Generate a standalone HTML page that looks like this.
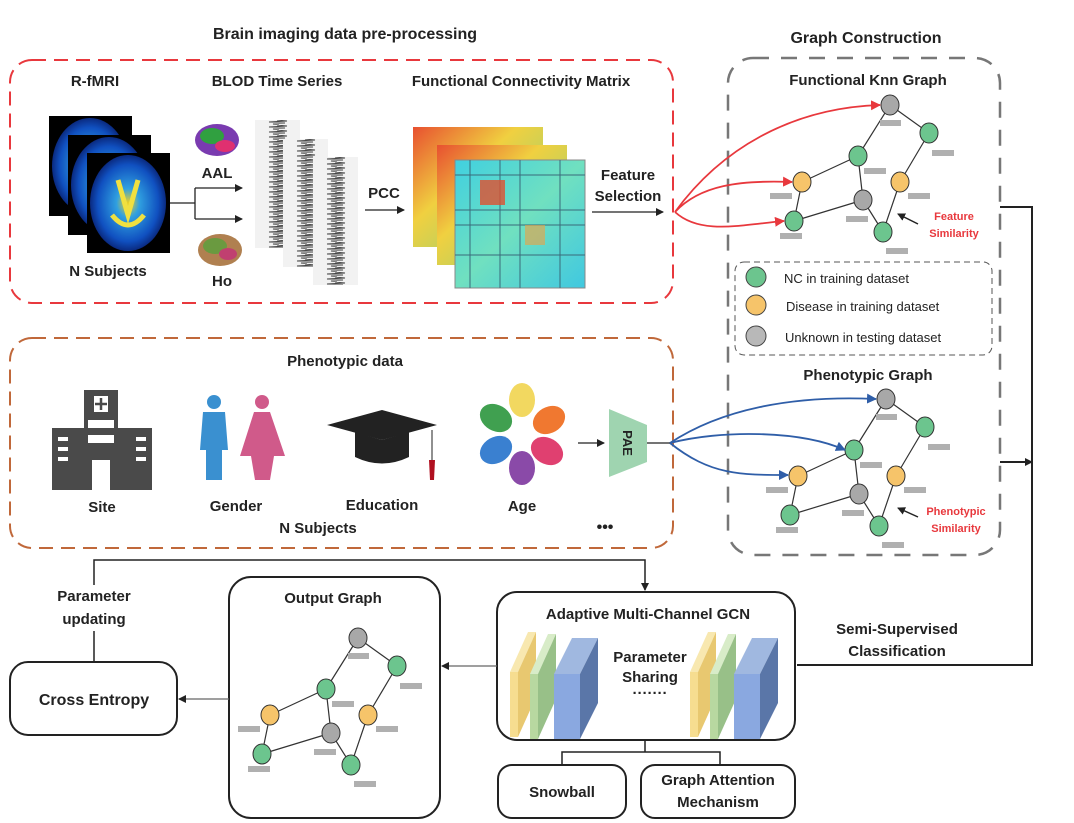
<!DOCTYPE html>
<html><head><meta charset="utf-8"><style>
html,body{margin:0;padding:0;background:#fff}
svg{display:block}
text{font-family:"Liberation Sans",sans-serif;font-weight:bold;fill:#222}
</style></head><body>
<svg width="1074" height="823" viewBox="0 0 1074 823" xmlns="http://www.w3.org/2000/svg">
<defs>
<marker id="ab" markerWidth="8" markerHeight="8" refX="7" refY="4" orient="auto" markerUnits="userSpaceOnUse"><path d="M0,0 L8,4 L0,8 z" fill="#222"/></marker>
<marker id="ar" markerWidth="10" markerHeight="10" refX="9" refY="5" orient="auto" markerUnits="userSpaceOnUse"><path d="M0,0 L10,5 L0,10 z" fill="#e8383d"/></marker>
<marker id="au" markerWidth="10" markerHeight="10" refX="9" refY="5" orient="auto" markerUnits="userSpaceOnUse"><path d="M0,0 L10,5 L0,10 z" fill="#2f5ea8"/></marker>
<radialGradient id="mri" cx="50%" cy="50%" r="50%"><stop offset="0" stop-color="#f0d020"/><stop offset="0.3" stop-color="#30a0e0"/><stop offset="0.8" stop-color="#1050c0"/><stop offset="1" stop-color="#0a2a80"/></radialGradient>
<linearGradient id="mat1" x1="0" y1="0" x2="1" y2="1"><stop offset="0" stop-color="#e85030"/><stop offset="0.4" stop-color="#f0d040"/><stop offset="1" stop-color="#80d080"/></linearGradient>
<linearGradient id="mat2" x1="0" y1="0" x2="1" y2="1"><stop offset="0" stop-color="#40d0e0"/><stop offset="0.5" stop-color="#70e0c0"/><stop offset="1" stop-color="#40c8e0"/></linearGradient>
<pattern id="ts" width="45" height="5" patternUnits="userSpaceOnUse"><path d="M22,0 L32,1 L14,2 L30,3 L18,4 L24,5" stroke="#444" stroke-width="0.9" fill="none"/></pattern>
</defs>

<text x="345" y="39" font-size="16" text-anchor="middle">Brain imaging data pre-processing</text>
<text x="866" y="43" font-size="16" text-anchor="middle">Graph Construction</text>

<rect x="10" y="60" width="663" height="243" rx="22" fill="none" stroke="#e8383d" stroke-width="2" stroke-dasharray="14,8"/>
<text x="95" y="86" font-size="15" text-anchor="middle">R-fMRI</text>
<text x="277" y="86" font-size="15" text-anchor="middle">BLOD Time Series</text>
<text x="521" y="86" font-size="15" text-anchor="middle">Functional Connectivity Matrix</text>
<g>
<rect x="49" y="116" width="83" height="100" fill="#000"/><ellipse cx="90" cy="166" rx="38" ry="48" fill="url(#mri)"/>
<rect x="68" y="135" width="83" height="100" fill="#000"/><ellipse cx="109" cy="185" rx="38" ry="48" fill="url(#mri)"/>
<rect x="87" y="153" width="83" height="100" fill="#000"/><ellipse cx="128" cy="203" rx="38" ry="48" fill="url(#mri)"/>
<path d="M118,180 L128,215 L138,180 M112,215 Q128,235 144,215" stroke="#f0e040" stroke-width="5" fill="none"/>
</g>
<text x="108" y="276" font-size="15" text-anchor="middle">N Subjects</text>
<ellipse cx="217" cy="140" rx="22" ry="16" fill="#7a3bb0"/><ellipse cx="212" cy="136" rx="12" ry="8" fill="#30a040"/><ellipse cx="225" cy="146" rx="10" ry="6" fill="#e03070"/>
<text x="217" y="178" font-size="15" text-anchor="middle">AAL</text>
<ellipse cx="220" cy="250" rx="22" ry="16" fill="#b08050"/><ellipse cx="215" cy="246" rx="12" ry="8" fill="#6a9a40"/><ellipse cx="228" cy="254" rx="9" ry="6" fill="#c04070"/>
<text x="222" y="286" font-size="15" text-anchor="middle">Ho</text>
<path d="M170,203 L195,203 M195,188 L195,219" stroke="#222" stroke-width="1.3" fill="none"/>
<line x1="195" y1="188" x2="242" y2="188" stroke="#222" stroke-width="1.3" marker-end="url(#ab)"/>
<line x1="195" y1="219" x2="242" y2="219" stroke="#222" stroke-width="1.3" marker-end="url(#ab)"/>
<!-- time series -->
<g transform="translate(255,120)"><rect width="45" height="128" fill="#f2f2f2"/><rect width="45" height="128" fill="url(#ts)"/></g>
<g transform="translate(283,139)"><rect width="45" height="128" fill="#f2f2f2"/><rect width="45" height="128" fill="url(#ts)"/></g>
<g transform="translate(313,157)"><rect width="45" height="128" fill="#f2f2f2"/><rect width="45" height="128" fill="url(#ts)"/></g>
<text x="384" y="198" font-size="15" text-anchor="middle">PCC</text>
<line x1="365" y1="210" x2="404" y2="210" stroke="#222" stroke-width="1.3" marker-end="url(#ab)"/>
<rect x="413" y="127" width="130" height="120" fill="url(#mat1)"/>
<rect x="437" y="145" width="130" height="120" fill="url(#mat1)"/>
<rect x="455" y="160" width="130" height="128" fill="url(#mat2)" stroke="#888"/>
<path d="M455,175 H585 M455,210 H585 M455,225 H585 M455,255 H585 M470,160 V288 M500,160 V288 M520,160 V288 M560,160 V288" stroke="#3a6a7a" stroke-width="1"/>
<rect x="480" y="180" width="25" height="25" fill="#e05030" opacity="0.8"/><rect x="525" y="225" width="20" height="20" fill="#f0a040" opacity="0.6"/>
<text x="628" y="180" font-size="15" text-anchor="middle">Feature</text>
<text x="628" y="201" font-size="15" text-anchor="middle">Selection</text>
<line x1="592" y1="212" x2="663" y2="212" stroke="#222" stroke-width="1.3" marker-end="url(#ab)"/>

<rect x="10" y="338" width="663" height="210" rx="22" fill="none" stroke="#c0683a" stroke-width="2" stroke-dasharray="14,8"/>
<text x="345" y="366" font-size="15" text-anchor="middle">Phenotypic data</text>
<g fill="#4a4a4a">
<rect x="84" y="390" width="34" height="100"/><rect x="52" y="428" width="100" height="62"/>
</g>
<g fill="#fff"><rect x="94" y="396" width="14" height="16"/><rect x="88" y="420" width="26" height="8"/><rect x="88" y="435" width="26" height="8"/><rect x="92" y="460" width="18" height="30"/>
<rect x="58" y="437" width="10" height="4"/><rect x="58" y="447" width="10" height="4"/><rect x="58" y="457" width="10" height="4"/><rect x="136" y="437" width="10" height="4"/><rect x="136" y="447" width="10" height="4"/><rect x="136" y="457" width="10" height="4"/></g>
<path d="M101,398 V410 M95,404 H107" stroke="#4a4a4a" stroke-width="2.5"/>
<text x="102" y="512" font-size="15" text-anchor="middle">Site</text>
<circle cx="214" cy="402" r="7" fill="#3a90d0"/><path d="M203,412 H225 L228,450 H222 V480 H206 V450 H200 Z" fill="#3a90d0"/>
<circle cx="262" cy="402" r="7" fill="#d05a8a"/><path d="M254,412 H270 L285,456 H274 L270,480 H255 L251,456 H240 Z" fill="#d05a8a"/>
<text x="236" y="511" font-size="15" text-anchor="middle">Gender</text>
<path d="M327,425 L382,410 L437,425 L382,440 Z" fill="#222"/><path d="M355,432 V457 Q382,470 409,457 V432 L382,440 Z" fill="#222"/>
<path d="M432,430 V470" stroke="#222"/><path d="M429,460 L435,460 L434,480 L430,480 Z" fill="#b01020"/>
<text x="382" y="510" font-size="15" text-anchor="middle">Education</text>
<ellipse cx="522" cy="400" rx="13" ry="17" fill="#f2d860"/>
<ellipse cx="549" cy="420" rx="13" ry="17" fill="#f07830" transform="rotate(60 549 420)"/>
<ellipse cx="547" cy="451" rx="13" ry="17" fill="#e04070" transform="rotate(120 547 451)"/>
<ellipse cx="522" cy="468" rx="13" ry="17" fill="#8a4aa8"/>
<ellipse cx="496" cy="450" rx="13" ry="17" fill="#3a80d0" transform="rotate(60 496 450)"/>
<ellipse cx="496" cy="418" rx="13" ry="17" fill="#40a050" transform="rotate(120 496 418)"/>
<text x="522" y="511" font-size="15" text-anchor="middle">Age</text>
<text x="318" y="533" font-size="15" text-anchor="middle">N Subjects</text>
<text x="605" y="532" font-size="16" text-anchor="middle">•••</text>
<line x1="578" y1="443" x2="604" y2="443" stroke="#222" stroke-width="1.3" marker-end="url(#ab)"/>
<path d="M609,409 L647,425 L647,462 L609,477 Z" fill="#9fd4b0"/>
<text x="628" y="443" font-size="13" text-anchor="middle" transform="rotate(90 628 443)" dy="5">PAE</text>
<line x1="647" y1="443" x2="670" y2="443" stroke="#222" stroke-width="1.2"/>

<rect x="728" y="58" width="272" height="497" rx="25" fill="none" stroke="#777" stroke-width="2.5" stroke-dasharray="16,12"/>
<text x="868" y="85" font-size="15" text-anchor="middle">Functional Knn Graph</text>
<text x="868" y="380" font-size="15" text-anchor="middle">Phenotypic Graph</text>
<rect x="735" y="262" width="257" height="93" rx="9" fill="none" stroke="#555" stroke-width="1" stroke-dasharray="6,4"/>
<circle cx="756" cy="277" r="10" fill="#6cc58e" stroke="#444"/><text x="784" y="283" font-size="13" style="font-weight:normal">NC in training dataset</text>
<circle cx="756" cy="305" r="10" fill="#f6c46a" stroke="#444"/><text x="786" y="311" font-size="13" style="font-weight:normal">Disease in training dataset</text>
<circle cx="756" cy="336" r="10" fill="#b8b8b8" stroke="#444"/><text x="785" y="342" font-size="13" style="font-weight:normal">Unknown in testing dataset</text>

<g id="g1">
<path d="M890,105 L929,133 M890,105 L858,156 M929,133 L900,182 M858,156 L802,182 M858,156 L863,200 M802,182 L794,221 M794,221 L863,200 M863,200 L883,232 M900,182 L883,232" stroke="#333" stroke-width="1.2" fill="none"/>
<g stroke="#333" stroke-width="1">
<ellipse cx="890" cy="105" rx="9" ry="10" fill="#a8a8a8"/>
<ellipse cx="929" cy="133" rx="9" ry="10" fill="#6cc58e"/>
<ellipse cx="858" cy="156" rx="9" ry="10" fill="#6cc58e"/>
<ellipse cx="802" cy="182" rx="9" ry="10" fill="#f6c46a"/>
<ellipse cx="900" cy="182" rx="9" ry="10" fill="#f6c46a"/>
<ellipse cx="863" cy="200" rx="9" ry="10" fill="#a8a8a8"/>
<ellipse cx="794" cy="221" rx="9" ry="10" fill="#6cc58e"/>
<ellipse cx="883" cy="232" rx="9" ry="10" fill="#6cc58e"/>
</g>
<g fill="#b0b0b0"><rect x="880" y="120" width="21" height="6"/><rect x="932" y="150" width="22" height="6"/><rect x="864" y="168" width="22" height="6"/><rect x="770" y="193" width="22" height="6"/><rect x="908" y="193" width="22" height="6"/><rect x="846" y="216" width="22" height="6"/><rect x="780" y="233" width="22" height="6"/><rect x="886" y="248" width="22" height="6"/></g>
</g>
<text x="954" y="220" font-size="11" text-anchor="middle" style="fill:#e8383d">Feature</text>
<text x="954" y="237" font-size="11" text-anchor="middle" style="fill:#e8383d">Similarity</text>
<line x1="918" y1="224" x2="898" y2="214" stroke="#222" stroke-width="1.5" marker-end="url(#ab)"/>

<use href="#g1" transform="translate(-4,294)"/>
<text x="956" y="515" font-size="11" text-anchor="middle" style="fill:#e8383d">Phenotypic</text>
<text x="956" y="532" font-size="11" text-anchor="middle" style="fill:#e8383d">Similarity</text>
<line x1="918" y1="517" x2="898" y2="508" stroke="#222" stroke-width="1.5" marker-end="url(#ab)"/>

<g stroke="#e8383d" stroke-width="1.8" fill="none">
<path d="M675,212 C720,150 790,108 880,105" marker-end="url(#ar)"/>
<path d="M675,212 C700,185 740,180 792,182" marker-end="url(#ar)"/>
<path d="M675,212 C700,235 740,225 784,221" marker-end="url(#ar)"/>
</g>
<g stroke="#2f5ea8" stroke-width="1.8" fill="none">
<path d="M670,443 C720,410 790,395 876,399" marker-end="url(#au)"/>
<path d="M670,443 C720,430 800,430 845,450" marker-end="url(#au)"/>
<path d="M670,443 C710,475 740,475 788,475" marker-end="url(#au)"/>
</g>

<path d="M1000,207 H1032 V665 H797 M1000,462 H1032" stroke="#222" stroke-width="2" fill="none" marker-end="url(#ab)"/>
<text x="897" y="634" font-size="15" text-anchor="middle">Semi-Supervised</text>
<text x="897" y="656" font-size="15" text-anchor="middle">Classification</text>

<rect x="497" y="592" width="298" height="148" rx="20" fill="#fff" stroke="#222" stroke-width="2"/>
<text x="648" y="619" font-size="15" text-anchor="middle">Adaptive Multi-Channel GCN</text>
<g id="layers">
<path d="M510,672 L528,632 H536 L518,672 Z" fill="#f8e8b0"/><path d="M518,672 L536,632 V697 L518,737 Z" fill="#e8c870"/><rect x="510" y="672" width="8" height="65" fill="#f6dd90"/>
<path d="M530,674 L548,634 H556 L538,674 Z" fill="#d8ecc8"/><path d="M538,674 L556,634 V699 L538,739 Z" fill="#98c088"/><rect x="530" y="674" width="8" height="65" fill="#b8d8a0"/>
<path d="M554,674 L572,638 H598 L580,674 Z" fill="#a0b8e0"/><path d="M580,674 L598,638 V703 L580,739 Z" fill="#5a76a8"/><rect x="554" y="674" width="26" height="65" fill="#8aa8e0"/>
</g>
<use href="#layers" transform="translate(180,0)"/>
<text x="650" y="662" font-size="15" text-anchor="middle">Parameter</text>
<text x="650" y="682" font-size="15" text-anchor="middle">Sharing</text>
<text x="650" y="698" font-size="15" text-anchor="middle">·······</text>
<path d="M645,740 V752 M562,765 V752 H720 V765" stroke="#222" stroke-width="1.5" fill="none"/>
<rect x="498" y="765" width="128" height="53" rx="14" fill="#fff" stroke="#222" stroke-width="2"/>
<text x="562" y="797" font-size="15" text-anchor="middle">Snowball</text>
<rect x="641" y="765" width="154" height="53" rx="14" fill="#fff" stroke="#222" stroke-width="2"/>
<text x="718" y="785" font-size="15" text-anchor="middle">Graph Attention</text>
<text x="718" y="807" font-size="15" text-anchor="middle">Mechanism</text>

<rect x="229" y="577" width="211" height="241" rx="22" fill="#fff" stroke="#222" stroke-width="2"/>
<text x="333" y="603" font-size="15" text-anchor="middle">Output Graph</text>
<use href="#g1" transform="translate(-532,533)"/>
<line x1="497" y1="666" x2="442" y2="666" stroke="#666" stroke-width="1.2" marker-end="url(#ab)"/>

<rect x="10" y="662" width="167" height="73" rx="18" fill="#fff" stroke="#222" stroke-width="2"/>
<text x="94" y="705" font-size="16" text-anchor="middle">Cross Entropy</text>
<line x1="229" y1="699" x2="179" y2="699" stroke="#666" stroke-width="1.2" marker-end="url(#ab)"/>
<path d="M94,662 V560 H645 V590" stroke="#222" stroke-width="1.5" fill="none" marker-end="url(#ab)"/>
<rect x="50" y="585" width="88" height="46" fill="#fff"/>
<text x="94" y="601" font-size="15" text-anchor="middle">Parameter</text>
<text x="94" y="624" font-size="15" text-anchor="middle">updating</text>
</svg>
</body></html>
